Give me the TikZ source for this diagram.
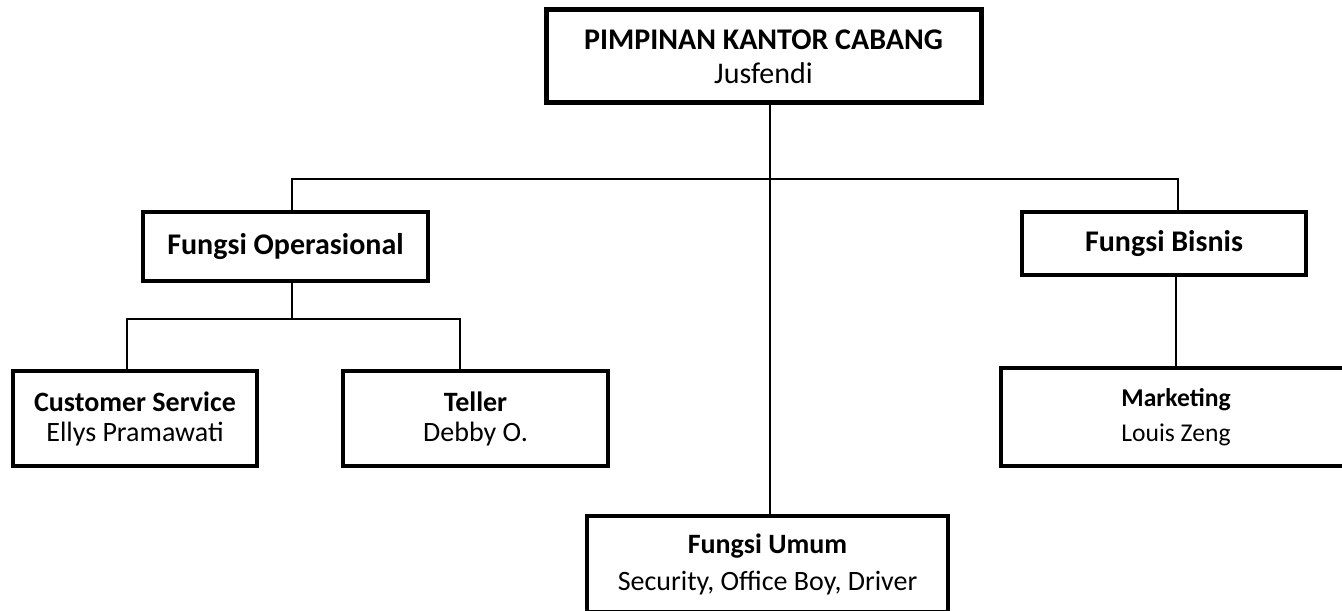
\documentclass[tikz,border=0pt]{standalone}
\usepackage{fontspec}
\setmainfont{Carlito}

\begin{document}
\begin{tikzpicture}[x=0.5pt,y=-0.5pt,
    box/.style={draw, rectangle, align=center, inner sep=0pt, font=\fontsize{14}{15}\selectfont},
    headbox/.style={box, line width=2.5pt, font=\fontsize{15}{17}\selectfont},
    unitbox/.style={box, line width=2.3pt, font=\fontsize{15}{17}\selectfont},
    staffbox/.style={box, line width=1.8pt},
    link/.style={line width=0.75pt}]
    \useasboundingbox (0,0) rectangle (1342,610);
    \clip (0,0) rectangle (1342,610);

    % boxes
    \node[headbox, minimum width=217.5pt, minimum height=46.5pt] (pimpinan) at (763.5,56.5)
        {\textbf{PIMPINAN KANTOR CABANG}\\Jusfendi};
    \node[unitbox, minimum width=142.5pt, minimum height=34.5pt] (operasional) at (285.5,246.5)
        {\textbf{Fungsi Operasional}};
    \node[unitbox, minimum width=142pt, minimum height=31.5pt] (bisnis) at (1164,243.5)
        {\textbf{Fungsi Bisnis}};
    \node[staffbox, minimum width=122pt, minimum height=47.5pt] (cs) at (135,418.5)
        {\textbf{Customer Service}\\Ellys Pramawati};
    \node[staffbox, minimum width=132.5pt, minimum height=47.5pt] (teller) at (475.5,418.5)
        {\textbf{Teller}\\Debby O.};
    \node[staffbox, minimum width=175pt, minimum height=49pt, font=\fontsize{12.8}{17.5}\selectfont] (marketing) at (1176,417)
        {\textbf{Marketing}\\Louis Zeng};
    \node[staffbox, minimum width=180.5pt, minimum height=48pt, font=\fontsize{14}{18.5}\selectfont] (umum) at (767.5,564)
        {\textbf{Fungsi Umum}\\Security, Office Boy, Driver};

    % columns of the connectors
    \coordinate (opscol) at (292,179);
    \coordinate (biscol) at (1178,179);
    \coordinate (cscol) at (127,319);
    \coordinate (tlcol) at (460,319);
    \coordinate (mkcol) at (1176,0);
    \coordinate (umcol) at (770,0);

    % connectors
    \draw[link] (umcol |- pimpinan.south) -- (umcol |- umum.north);
    \draw[link] (opscol |- operasional.north) -- (opscol) -- (biscol) -- (biscol |- bisnis.north);
    \draw[link] (opscol |- operasional.south) -- (opscol |- cscol);
    \draw[link] (cscol |- cs.north) -- (cscol) -- (tlcol) -- (tlcol |- teller.north);
    \draw[link] (mkcol |- bisnis.south) -- (mkcol |- marketing.north);
\end{tikzpicture}
\end{document}
